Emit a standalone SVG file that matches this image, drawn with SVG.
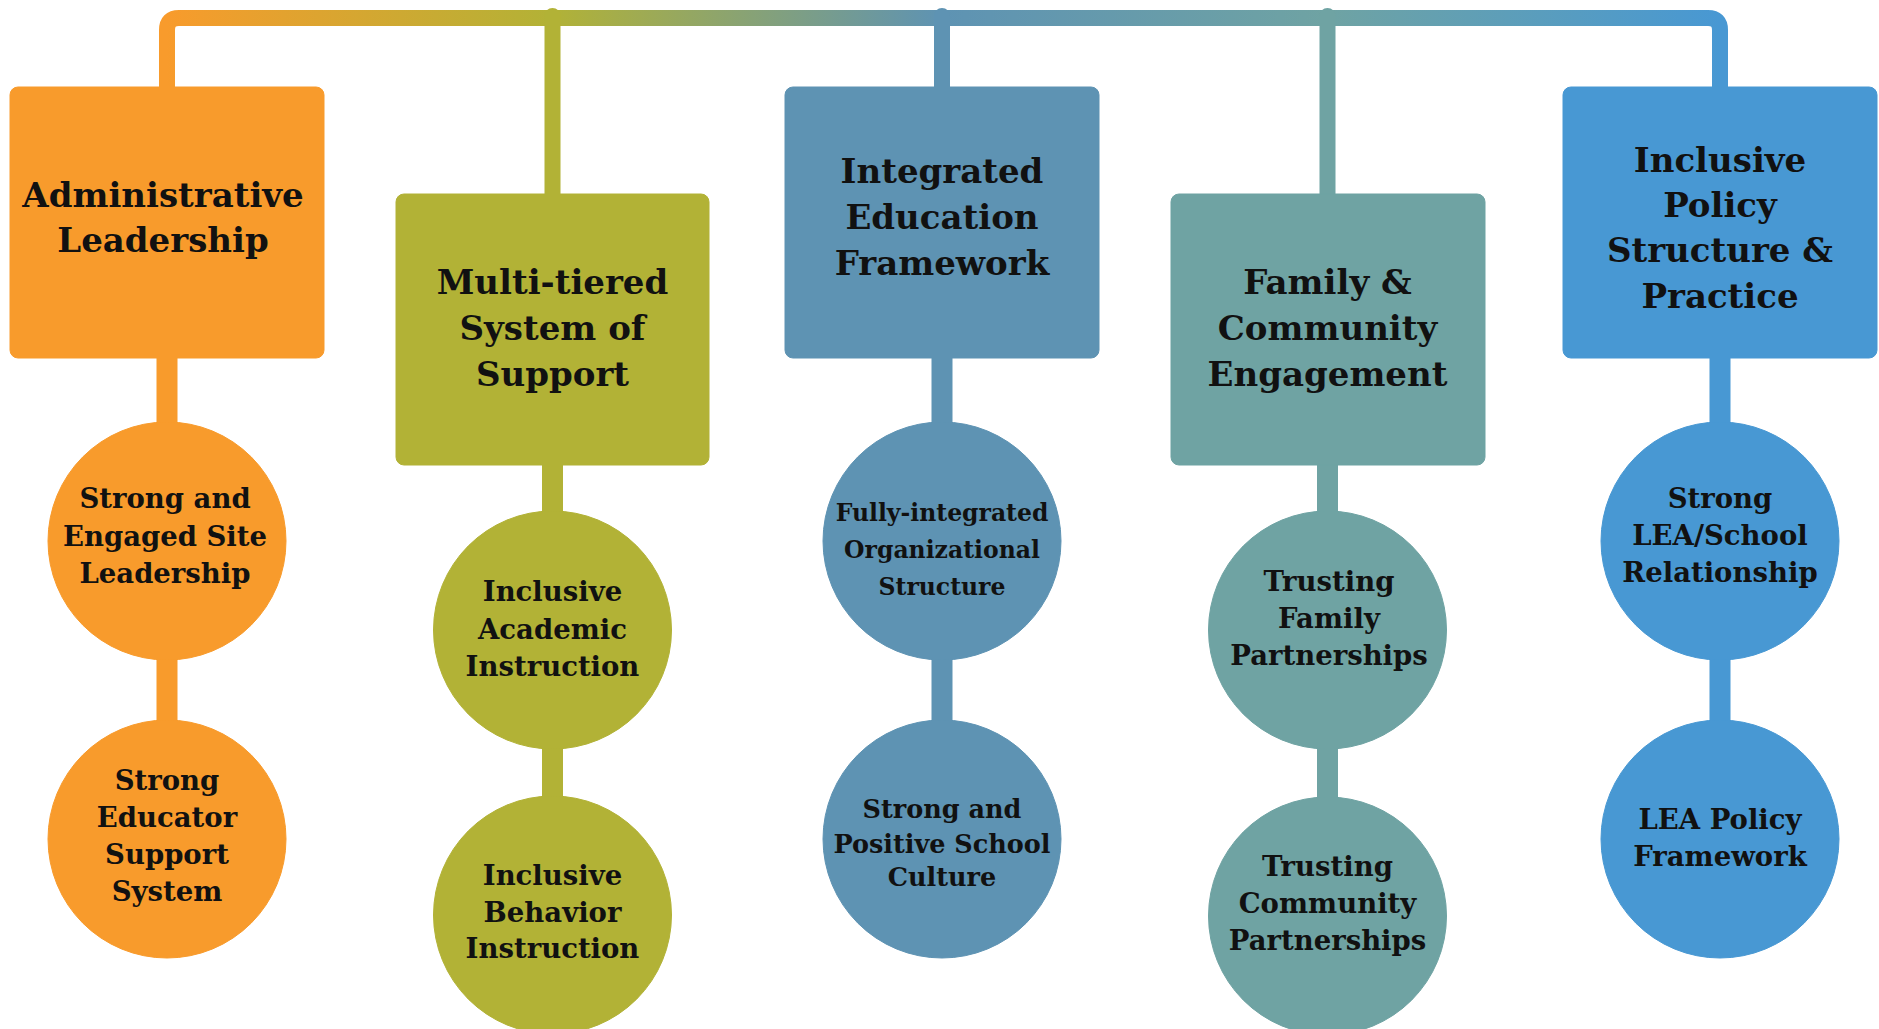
<svg xmlns="http://www.w3.org/2000/svg" width="1879" height="1029" viewBox="0 0 1879 1029">
<defs>
<linearGradient id="bar" gradientUnits="userSpaceOnUse" x1="167" y1="0" x2="1720" y2="0">
<stop offset="0" stop-color="#F89B2C"/>
<stop offset="0.248" stop-color="#B2B236"/>
<stop offset="0.499" stop-color="#5E93B3"/>
<stop offset="0.747" stop-color="#6FA3A3"/>
<stop offset="1" stop-color="#4898D3"/>
</linearGradient>
<style>
.t{font-family:"DejaVu Serif","Liberation Serif",serif;font-weight:bold;fill:#111;text-anchor:middle}
.h{font-size:34px}
.c{font-size:27.5px}
.s{font-size:23.5px}
.p{font-size:25.5px}
.c1{fill:#F89B2C;stroke:#F89B2C}
.c2{fill:#B2B236;stroke:#B2B236}
.c3{fill:#5E93B3;stroke:#5E93B3}
.c4{fill:#6FA3A3;stroke:#6FA3A3}
.c5{fill:#4898D3;stroke:#4898D3}
.up{stroke-width:16;fill:none;stroke-linecap:round}
.dn{stroke-width:21;fill:none}
</style>
</defs>
<rect width="1879" height="1029" fill="#fff"/>
<g id="connectors">
<path d="M167,90 V30 Q167,18 179,18 H1708 Q1720,18 1720,30 V90" fill="none" stroke="url(#bar)" stroke-width="16"/>
<line class="c2 up" x1="552.5" y1="16" x2="552.5" y2="200"/>
<line class="c3 up" x1="942" y1="16" x2="942" y2="92"/>
<line class="c4 up" x1="1327.5" y1="16" x2="1327.5" y2="200"/>
<line class="c1 dn" x1="167" y1="350" x2="167" y2="839"/>
<line class="c2 dn" x1="552.5" y1="460" x2="552.5" y2="915"/>
<line class="c3 dn" x1="942" y1="350" x2="942" y2="839"/>
<line class="c4 dn" x1="1327.5" y1="460" x2="1327.5" y2="916"/>
<line class="c5 dn" x1="1720" y1="350" x2="1720" y2="839"/>
</g>
<g id="admin">
<rect class="c1" x="10" y="87" width="314" height="271" rx="8" stroke="none"/>
<text class="t h" x="163" y="207">Administrative</text>
<text class="t h" x="163" y="252">Leadership</text>
</g>
<g id="admin-site">
<circle class="c1" cx="167" cy="541" r="119" stroke="none"/>
<text class="t c" x="165" y="508">Strong and</text>
<text class="t c" x="165" y="545.5">Engaged Site</text>
<text class="t c" x="165" y="583">Leadership</text>
</g>
<g id="admin-educator">
<circle class="c1" cx="167" cy="839" r="119" stroke="none"/>
<text class="t c" x="167" y="790">Strong</text>
<text class="t c" x="167" y="827">Educator</text>
<text class="t c" x="167" y="864">Support</text>
<text class="t c" x="167" y="901">System</text>
</g>
<g id="mtss">
<rect class="c2" x="396" y="194" width="313" height="271" rx="8" stroke="none"/>
<text class="t h" x="552.5" y="294">Multi-tiered</text>
<text class="t h" x="552.5" y="340">System of</text>
<text class="t h" x="552.5" y="386">Support</text>
</g>
<g id="mtss-academic">
<circle class="c2" cx="552.5" cy="630" r="119" stroke="none"/>
<text class="t c" x="552.5" y="601">Inclusive</text>
<text class="t c" x="552.5" y="638.5">Academic</text>
<text class="t c" x="552.5" y="676">Instruction</text>
</g>
<g id="mtss-behavior">
<circle class="c2" cx="552.5" cy="915" r="119" stroke="none"/>
<text class="t c" x="552.5" y="885">Inclusive</text>
<text class="t c" x="552.5" y="922">Behavior</text>
<text class="t c" x="552.5" y="958">Instruction</text>
</g>
<g id="integrated">
<rect class="c3" x="785" y="87" width="314" height="271" rx="8" stroke="none"/>
<text class="t h" x="942" y="183">Integrated</text>
<text class="t h" x="942" y="229">Education</text>
<text class="t h" x="942" y="275">Framework</text>
</g>
<g id="integrated-structure">
<circle class="c3" cx="942" cy="541" r="119" stroke="none"/>
<text class="t s" x="942" y="521">Fully-integrated</text>
<text class="t s" x="942" y="558">Organizational</text>
<text class="t s" x="942" y="595">Structure</text>
</g>
<g id="integrated-culture">
<circle class="c3" cx="942" cy="839" r="119" stroke="none"/>
<text class="t p" x="942" y="818">Strong and</text>
<text class="t p" x="942" y="852.5">Positive School</text>
<text class="t p" x="942" y="886">Culture</text>
</g>
<g id="family">
<rect class="c4" x="1171" y="194" width="314" height="271" rx="8" stroke="none"/>
<text class="t h" x="1327.5" y="294">Family &amp;</text>
<text class="t h" x="1327.5" y="340">Community</text>
<text class="t h" x="1327.5" y="386">Engagement</text>
</g>
<g id="family-partnerships">
<circle class="c4" cx="1327.5" cy="630" r="119" stroke="none"/>
<text class="t c" x="1329" y="591">Trusting</text>
<text class="t c" x="1329" y="628">Family</text>
<text class="t c" x="1329" y="665">Partnerships</text>
</g>
<g id="community-partnerships">
<circle class="c4" cx="1327.5" cy="916" r="119" stroke="none"/>
<text class="t c" x="1327.5" y="876">Trusting</text>
<text class="t c" x="1327.5" y="913">Community</text>
<text class="t c" x="1327.5" y="950">Partnerships</text>
</g>
<g id="policy">
<rect class="c5" x="1563" y="87" width="314" height="271" rx="8" stroke="none"/>
<text class="t h" x="1720" y="172">Inclusive</text>
<text class="t h" x="1720" y="217">Policy</text>
<text class="t h" x="1720" y="262">Structure &amp;</text>
<text class="t h" x="1720" y="308">Practice</text>
</g>
<g id="policy-relationship">
<circle class="c5" cx="1720" cy="541" r="119" stroke="none"/>
<text class="t c" x="1720" y="508">Strong</text>
<text class="t c" x="1720" y="545">LEA/School</text>
<text class="t c" x="1720" y="582">Relationship</text>
</g>
<g id="policy-framework">
<circle class="c5" cx="1720" cy="839" r="119" stroke="none"/>
<text class="t c" x="1720" y="829">LEA Policy</text>
<text class="t c" x="1720" y="866">Framework</text>
</g>
</svg>
